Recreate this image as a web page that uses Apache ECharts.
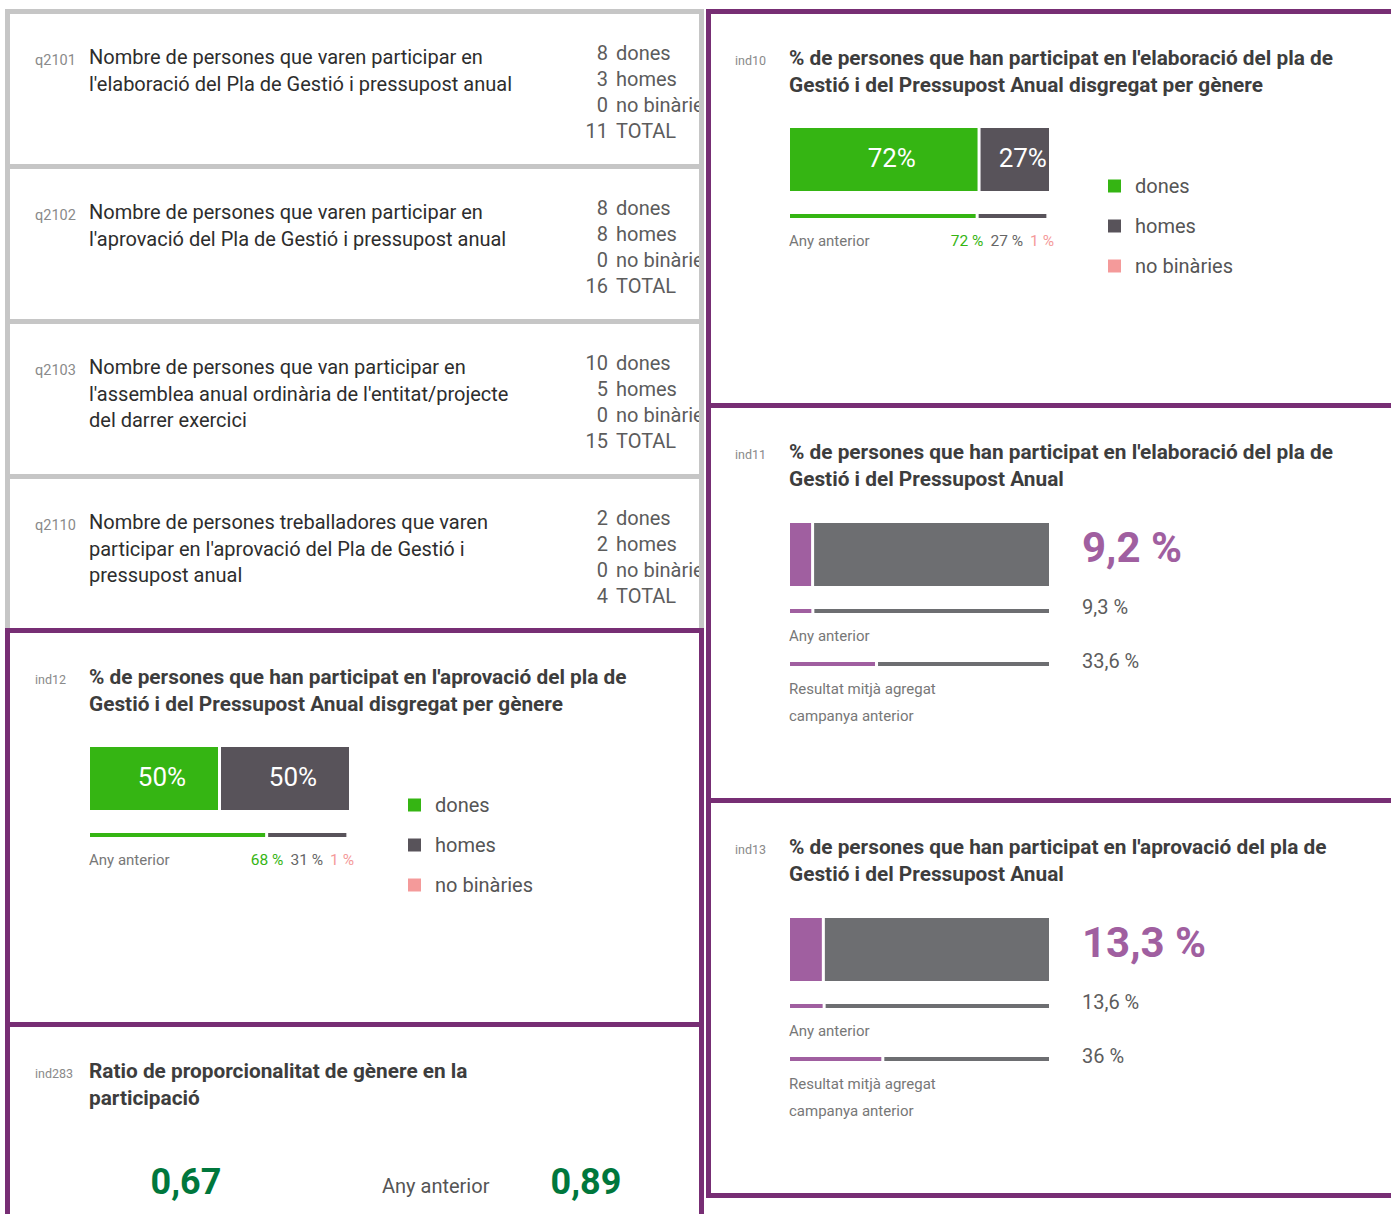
<!DOCTYPE html>
<html>
<head>
<meta charset="utf-8">
<script src="https://cdn.jsdelivr.net/npm/echarts/dist/echarts.min.js"></script>
<style>
  body { margin: 0; background: #fff; font-family: Roboto, "Noto Sans", sans-serif; }
  #page { position: relative; width: 1391px; height: 1214px; overflow: hidden; background: #fff; }
  .box { position: absolute; box-sizing: border-box; border: 5px solid #c6c6c6; background: #fff; overflow: hidden; }
  .box.ind { border-color: #772e74; }
  .chart { position: absolute; }
</style>
</head>
<body>
<div id="page"></div>
<script>
const genderNames = ['dones', 'homes', 'no binàries'];
const countLabels = ['dones', 'homes', 'no binàries', 'TOTAL'];

const questionCodes = ['q2101', 'q2102', 'q2103', 'q2110'];
const questionLines = [
    ["Nombre de persones que varen participar en", "l'elaboració del Pla de Gestió i pressupost anual"],
    ["Nombre de persones que varen participar en", "l'aprovació del Pla de Gestió i pressupost anual"],
    ["Nombre de persones que van participar en", "l'assemblea anual ordinària de l'entitat/projecte", "del darrer exercici"],
    ["Nombre de persones treballadores que varen", "participar en l'aprovació del Pla de Gestió i", "pressupost anual"]
];
const q2101 = [8, 3, 0];
const q2102 = [8, 8, 0];
const q2103 = [10, 5, 0];
const q2110 = [2, 2, 0];

// ind10 / ind12: current counts by gender and previous year %
const ind10Now = [8, 3, 0];
const ind10Prev = [72, 27, 1];
const ind12Now = [8, 8, 0];
const ind12Prev = [68, 31, 1];

// ind11 / ind13: current, previous year, aggregated mean last campaign
const ind11Values = [9.2, 9.3, 33.6];
const ind13Values = [13.3, 13.6, 36];

// ind283: ratio now, previous year
const ind283Values = [0.67, 0.89];

const titles = {
    ind10: ["% de persones que han participat en l'elaboració del pla de", "Gestió i del Pressupost Anual disgregat per gènere"],
    ind11: ["% de persones que han participat en l'elaboració del pla de", "Gestió i del Pressupost Anual"],
    ind13: ["% de persones que han participat en l'aprovació del pla de", "Gestió i del Pressupost Anual"],
    ind12: ["% de persones que han participat en l'aprovació del pla de", "Gestió i del Pressupost Anual disgregat per gènere"],
    ind283: ["Ratio de proporcionalitat de gènere en la", "participació"]
};

// ---- styles ----
const genderColors = ['#35b513', '#58535a', '#f49a9a'];
const shareColors = ['#a05fa0', '#6d6e71'];
const PAD = 4;
const BW = 1.5;

const page = document.getElementById('page');
page.ox = 0; page.oy = 0;

// y is the centre of the first line
function put(parent, x, y, html, o) {
    const d = document.createElement('div');
    const lh = o.lh || Math.round(o.size * 1.3);
    let css = 'position:absolute;white-space:nowrap;left:' + (x - parent.ox) + 'px;top:' + (y - lh / 2 - parent.oy) + 'px;'
        + 'font-size:' + o.size + 'px;line-height:' + lh + 'px;color:' + o.color + ';font-weight:' + (o.weight || 400) + ';';
    if (o.align === 'right') css += 'transform:translateX(-100%);';
    if (o.align === 'center') css += 'transform:translateX(-50%);';
    d.style.cssText = css;
    d.innerHTML = html;
    parent.appendChild(d);
    return d;
}

function box(x, y, w, h, ind) {
    const b = document.createElement('div');
    b.className = ind ? 'box ind' : 'box';
    b.style.left = x + 'px'; b.style.top = y + 'px';
    b.style.width = w + 'px'; b.style.height = h + 'px';
    b.ox = x + 5; b.oy = y + 5;
    page.appendChild(b);
    return b;
}

function fmt(v) {
    return String(v).replace('.', ',');
}

// stacked horizontal bars, one grid per row
function stackChart(x, y, rows, legend) {
    const w = 259;
    const div = document.createElement('div');
    div.className = 'chart';
    const cw = PAD * 2 + (legend ? 470 : w);
    const ch = PAD * 2 + (legend ? 160 : 145);
    div.style.cssText = 'left:' + (x - PAD) + 'px;top:' + (y - PAD) + 'px;width:' + cw + 'px;height:' + ch + 'px;';
    page.appendChild(div);
    const chart = echarts.init(div, null, {renderer: 'svg'});
    const grid = [], xAxis = [], yAxis = [], series = [];
    rows.forEach((r, i) => {
        const total = r.values.reduce((a, b) => a + b, 0);
        grid.push({left: PAD - BW, top: PAD + r.top - BW, width: w + BW * 2, height: r.h + BW * 2});
        xAxis.push({type: 'value', gridIndex: i, min: 0, max: total, show: false});
        yAxis.push({type: 'category', gridIndex: i, data: ['v'], show: false});
        r.values.forEach((v, j) => {
            series.push({
                type: 'bar',
                name: r.names ? r.names[j] : 's' + j,
                xAxisIndex: i,
                yAxisIndex: i,
                stack: 'row' + i,
                barWidth: '100%',
                silent: true,
                data: [v],
                itemStyle: {color: r.colors[j], borderColor: '#fff', borderWidth: BW},
                label: (r.label && v > 0) ? {
                    show: true,
                    position: 'inside',
                    offset: [8, -2],
                    color: '#fff',
                    fontSize: 26,
                    fontFamily: 'Roboto',
                    formatter: p => Math.floor(100 * p.value / total) + '%'
                } : {show: false}
            });
        });
    });
    const option = {animation: false, grid, xAxis, yAxis, series};
    if (legend) {
        option.legend = {
            data: genderNames,
            orient: 'vertical',
            left: PAD + 313,
            top: PAD + 43,
            icon: 'rect',
            itemWidth: 13,
            itemHeight: 13,
            itemGap: 20,
            selectedMode: false,
            itemStyle: {borderWidth: 0},
            textStyle: {fontSize: 20, lineHeight: 20, color: '#555', fontFamily: 'Roboto', padding: [0, 0, 0, 9]}
        };
    }
    chart.setOption(option);
}

// ---- gray question boxes ----
const questionCounts = [q2101, q2102, q2103, q2110];
const grayTops = [9, 164, 319, 474];
questionCodes.forEach((code, i) => {
    const T = grayTops[i];
    const b = box(5, T, 699, 160, false);
    put(b, 35, T + 51, code, {size: 14.5, color: '#8a8a8a'});
    put(b, 89, T + 48.5, questionLines[i].join('<br>'), {size: 20, color: '#2d2d2d', lh: 26.5});
    const c = questionCounts[i];
    const nums = c.concat([c.reduce((a, v) => a + v, 0)]);
    nums.forEach((n, k) => {
        const yc = T + 43.5 + 26.3 * k;
        put(b, 608, yc, String(n), {size: 20, color: '#5c5c5c', align: 'right'});
        put(b, 616, yc, countLabels[k], {size: 20, color: '#5c5c5c'});
    });
});

// ---- purple indicator boxes ----
function indicator(code, bx, T, h, tx) {
    const b = box(bx, T, bx < 700 ? 699 : 700, h, true);
    put(b, tx - 54, T + 52, code, {size: 12.5, color: '#8a8a8a'});
    put(b, tx, T + 49.5, titles[code].join('<br>'), {size: 20.8, color: '#3d3d3d', weight: 700, lh: 26.5});
    return b;
}

function genderBlock(code, bx, T, tx, now, prev) {
    const b = indicator(code, bx, T, 400, tx);
    const by = T + 119;
    stackChart(tx + 1, by, [
        {top: 0, h: 63, values: now, colors: genderColors, names: genderNames, label: true},
        {top: 86, h: 4, values: prev, colors: genderColors, names: genderNames}
    ], true);
    put(b, tx, by + 113, 'Any anterior', {size: 15, color: '#777'});
    const spans = prev.map((v, j) => '<span style="color:' + (j === 1 ? '#666' : genderColors[j]) + ';margin-left:7px">' + v + ' %</span>').join('');
    put(b, tx + 265, by + 113, spans, {size: 15.5, color: '#666', align: 'right'});
}

function shareBlock(code, bx, T, tx, vals) {
    const b = indicator(code, bx, T, 400, tx);
    const by = T + 120;
    stackChart(tx + 1, by, vals.map((v, i) => ({
        top: [0, 86, 139][i], h: i === 0 ? 63 : 4, values: [v, 100 - v], colors: shareColors
    })), false);
    put(b, tx + 293, by + 25, fmt(vals[0]) + ' %', {size: 42, color: '#a05fa0', weight: 700, lh: 50});
    put(b, tx + 293, by + 84, fmt(vals[1]) + ' %', {size: 20, color: '#5c5c5c'});
    put(b, tx, by + 113, 'Any anterior', {size: 15, color: '#777'});
    put(b, tx + 293, by + 138, fmt(vals[2]) + ' %', {size: 20, color: '#5c5c5c'});
    put(b, tx, by + 166, 'Resultat mitjà agregat', {size: 15, color: '#777'});
    put(b, tx, by + 193, 'campanya anterior', {size: 15, color: '#777'});
}

genderBlock('ind12', 5, 628, 89, ind12Now, ind12Prev);
const r283 = indicator('ind283', 5, 1022, 400, 89);
put(r283, 186, 1182, fmt(ind283Values[0]), {size: 36, color: '#00773c', weight: 700, lh: 44, align: 'center'});
put(r283, 382, 1186, 'Any anterior', {size: 20, color: '#555'});
put(r283, 586, 1182, fmt(ind283Values[1]), {size: 36, color: '#00773c', weight: 700, lh: 44, align: 'center'});

genderBlock('ind10', 706, 9, 789, ind10Now, ind10Prev);
shareBlock('ind11', 706, 403, 789, ind11Values);
shareBlock('ind13', 706, 798, 789, ind13Values);
</script>
</body>
</html>
